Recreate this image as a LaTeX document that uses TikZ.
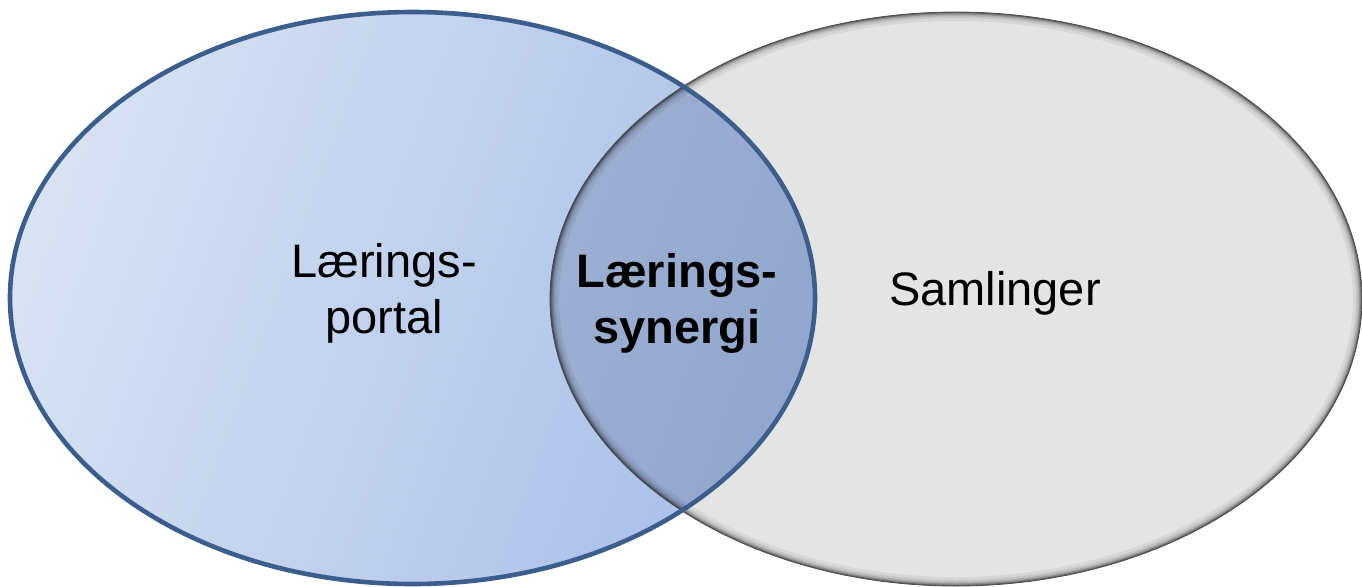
\documentclass[tikz,border=0pt]{standalone}
\usepackage{fontspec}
\setmainfont{Liberation Sans}
\definecolor{bluelight}{RGB}{216,226,243}
\definecolor{bluedark}{RGB}{168,191,232}
\definecolor{midlight}{RGB}{176,188,215}
\definecolor{middark}{RGB}{147,167,206}
\definecolor{blueedge}{RGB}{59,94,140}
\definecolor{greyfill}{RGB}{228,228,228}
\begin{document}
\begin{tikzpicture}[x=0.5pt,y=-0.5pt,
  lbl/.style={font=\fontsize{23.5pt}{28pt}\selectfont, align=center, text=black, inner sep=0pt}]
\useasboundingbox (0,0) rectangle (1362,586);
\def\Lell{(412.5,298) ellipse [x radius=201.25pt, y radius=143pt]}
\def\Rell{(956,299) ellipse [x radius=203pt, y radius=143.5pt]}
% left set fill
\shade[shading=axis, left color=bluelight, right color=bluedark, shading angle=70] \Lell;
% right set fill
\fill[greyfill] \Rell;
% intersection
\begin{scope}
  \clip \Rell;
  \shade[shading=axis, left color=midlight, right color=middark, shading angle=70] \Lell;
\end{scope}
% inner shadow of the right set
\begin{scope}
  \clip \Rell;
  \foreach \w/\o in {9/0.06, 6/0.08, 4/0.12, 2.5/0.18, 1.2/0.3}
    \draw[line width=\w pt, black, opacity=\o] \Rell;
\end{scope}
\draw[black!70, line width=0.4pt] \Rell;
% left outline
\draw[blueedge, line width=2.3pt] \Lell;
% labels
\node[lbl] (portal) at (384,293) {Lærings-\\portal};
\node[lbl, font=\fontsize{23.5pt}{28pt}\selectfont\bfseries] (synergi) at (677,303) {Lærings-\\synergi};
\node[lbl] (samlinger) at (995,293) {Samlinger};
\end{tikzpicture}
\end{document}
